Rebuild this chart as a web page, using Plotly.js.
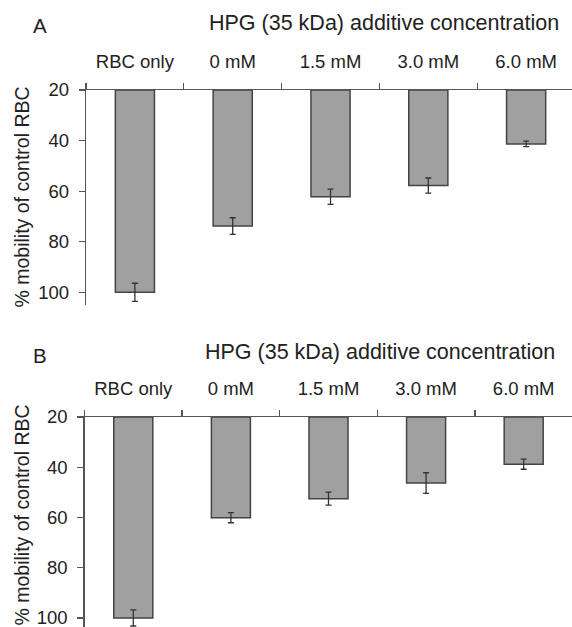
<!DOCTYPE html>
<html>
<head>
<meta charset="utf-8">
<script src="https://cdn.plot.ly/plotly-3.0.1.min.js"></script>
<style>
html, body { margin: 0; padding: 0; background: #fff; }
#chart { width: 572px; height: 627px; }
</style>
</head>
<body>
<div id="chart"></div>
<script>
// ---- data ----
const categories = ['RBC only', '0 mM', '1.5 mM', '3.0 mM', '6.0 mM'];
const mobilityA = [100, 73.8, 62.2, 57.8, 41.3];
const errorA = [3.6, 3.3, 3.0, 3.0, 1.1];
const mobilityB = [100, 60.1, 52.5, 46.3, 38.8];
const errorB = [3.2, 2.0, 2.6, 4.1, 2.0];
const baseline = 20;
const yTickVals = [20, 40, 60, 80, 100];
const panelTitle = 'HPG (35 kDa) additive concentration';
const yTitle = '% mobility of control RBC';
const panelLetters = ['A', 'B'];

// ---- styling ----
const W = 572, H = 627;
const FONT = 'Liberation Sans, Arial, Helvetica, sans-serif';
const TXT = '#222';
const AX = '#555';
const py = p => (H - p) / H;   // pixel row -> paper y
const px = p => p / W;         // pixel col -> paper x

function barTrace(vals, errs, xa, ya) {
  return {
    type: 'bar',
    x: categories,
    y: vals.map(v => v - baseline),
    base: baseline,
    width: 0.4,
    xaxis: xa, yaxis: ya,
    marker: { color: '#a0a0a0', line: { color: '#444', width: 1.5 } },
    error_y: { type: 'data', array: errs, visible: true, color: '#333', thickness: 1.3, width: 3 },
    showlegend: false,
    hoverinfo: 'skip'
  };
}

function xAxis(domain, range, anchor) {
  return {
    domain: domain, range: range, anchor: anchor,
    type: 'category', side: 'top',
    showline: true, linecolor: AX, linewidth: 1.3,
    ticks: 'outside', tickson: 'boundaries', ticklen: 6, tickcolor: AX, tickwidth: 1.3,
    ticklabelstandoff: 13,
    showgrid: false, zeroline: false, automargin: false, fixedrange: true,
    tickfont: { family: FONT, size: 18.5, color: TXT }
  };
}
function yAxis(domain, range, anchor) {
  return {
    domain: domain, range: range, anchor: anchor,
    tickvals: yTickVals,
    showline: true, linecolor: AX, linewidth: 1.3,
    ticks: 'outside', ticklen: 6, tickcolor: AX, tickwidth: 1.3,
    ticklabelstandoff: 6, ticklabeloverflow: 'allow',
    showgrid: false, zeroline: false, automargin: false, fixedrange: true,
    tickfont: { family: FONT, size: 18.5, color: TXT }
  };
}

const data = [
  barTrace(mobilityA, errorA, 'x', 'y'),
  barTrace(mobilityB, errorB, 'x2', 'y2')
];

function ann(text, x, y, size, extra) {
  return Object.assign({
    text: text, xref: 'paper', yref: 'paper', x: x, y: y,
    xanchor: 'center', yanchor: 'middle', showarrow: false,
    font: { family: FONT, size: size, color: TXT }
  }, extra || {});
}

const layout = {
  width: W, height: H,
  margin: { l: 0, r: 0, t: 0, b: 0 },
  paper_bgcolor: '#fff', plot_bgcolor: '#fff',
  xaxis: xAxis([px(86), 1], [-0.5, 4.469], 'y'),
  yaxis: yAxis([py(305), py(90)], [105, 20], 'x'),
  xaxis2: xAxis([px(84.5), 1], [-0.5, 4.495], 'y2'),
  yaxis2: yAxis([0, py(417)], [103.6, 20], 'x2'),
  annotations: [
    ann(panelLetters[0], px(40), py(25), 20.5),
    ann(panelTitle, px(384), py(23), 21.5),
    ann(yTitle, px(21.5), py(197), 19.5, { textangle: -90 }),
    ann(panelLetters[1], px(40), py(355), 20.5),
    ann(panelTitle, px(380), py(352), 21.5),
    ann(yTitle, px(21.5), py(515), 19.5, { textangle: -90 })
  ]
};

Plotly.newPlot('chart', data, layout, { staticPlot: true, displayModeBar: false });
</script>
</body>
</html>
